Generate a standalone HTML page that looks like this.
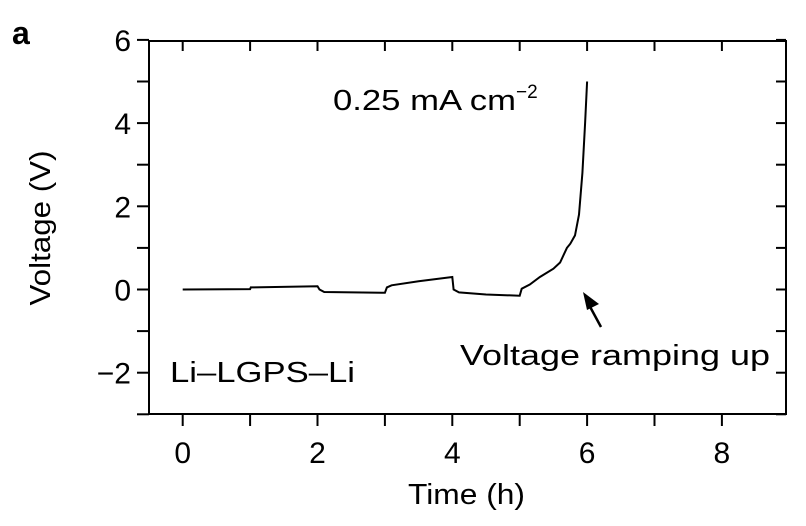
<!DOCTYPE html>
<html><head><meta charset="utf-8"><style>
body{margin:0;background:#fff;}
svg{display:block;font-family:"Liberation Sans",Arial,sans-serif;}
</style></head><body>
<svg width="806" height="526" viewBox="0 0 806 526">
<g id="axes"></g>
<path id="curve" fill="none" stroke="#000" stroke-width="2"/>
<text x="12" y="44" font-size="32" font-weight="bold">a</text>
<text transform="translate(50,228) rotate(-90)" text-anchor="middle" font-size="29" textLength="155" lengthAdjust="spacingAndGlyphs">Voltage (V)</text>
<text x="408" y="504" font-size="29" textLength="117" lengthAdjust="spacingAndGlyphs">Time (h)</text>
<text x="333" y="110" font-size="29"><tspan textLength="183" lengthAdjust="spacingAndGlyphs">0.25 mA cm</tspan><tspan dy="-12" font-size="19">−2</tspan></text>
<text x="170" y="382" font-size="29" textLength="185" lengthAdjust="spacingAndGlyphs">Li–LGPS–Li</text>
<text x="460" y="365" font-size="29" textLength="310" lengthAdjust="spacingAndGlyphs">Voltage ramping up</text>
<g>
<line x1="601" y1="327" x2="588" y2="303" stroke="#000" stroke-width="2.5"/>
<polygon points="583,292 599,304 587,310" fill="#000"/>
</g>
</svg>
<script>
const times=[0,1,1.01,2,2.03,2.1,3,3.03,3.1,3.5,4,4.02,4.1,4.5,5,5.03,5.15,5.3,5.5,5.6,5.7,5.75,5.82,5.88,5.93,5.97,6.0];
const volts=[0,0.01,0.05,0.08,0.0,-0.06,-0.08,0.05,0.1,0.2,0.3,0.0,-0.07,-0.12,-0.15,0.02,0.12,0.3,0.5,0.65,1.0,1.1,1.3,1.8,2.8,4.0,5.0];
const xTicks=[0,2,4,6,8];
const yTicks=[-2,0,2,4,6];
const L=149,R=786,T=41,B=414;
const x=v=>182.7+v*67.4;
const y=v=>289.5-v*41.6;
const ns="http://www.w3.org/2000/svg";
const g=document.getElementById('axes');
function ln(x1,y1,x2,y2,name){const e=document.createElementNS(ns,'line');e.setAttribute('x1',x1);e.setAttribute('y1',y1);e.setAttribute('x2',x2);e.setAttribute('y2',y2);e.setAttribute('stroke','#000');e.setAttribute('stroke-width','2');


g.appendChild(e);}
const fr=document.createElementNS(ns,'rect');fr.setAttribute('x',L);fr.setAttribute('y',T);fr.setAttribute('width',R-L);fr.setAttribute('height',B-T);fr.setAttribute('fill','none');fr.setAttribute('stroke','#000');fr.setAttribute('stroke-width','2');


g.appendChild(fr);
for(let h=0;h<=8;h++){const px=x(h);ln(px,B,px,B+12,'x-tick');ln(px,T,px,T+10,'x-tick-top');}
for(let v=-3;v<=6;v++){const py=y(v);ln(L-12,py,L,py,'y-tick');ln(R-10,py,R,py,'y-tick-right');}
function tx(px,py,s,name){const e=document.createElementNS(ns,'text');e.setAttribute('x',px);e.setAttribute('y',py);e.setAttribute('font-size','30');e.setAttribute('text-anchor',name==='x-tick-label'?'middle':'end');e.textContent=s;


g.appendChild(e);}
xTicks.forEach(t=>tx(x(t),B+49,String(t),'x-tick-label'));
yTicks.forEach(t=>tx(L-18,y(t)+11,t<0?'−'+Math.abs(t):String(t),'y-tick-label'));
document.getElementById('curve').setAttribute('d',times.map((t,i)=>(i?'L':'M')+x(t).toFixed(1)+','+y(volts[i]).toFixed(1)).join(''));
</script>
</body></html>
